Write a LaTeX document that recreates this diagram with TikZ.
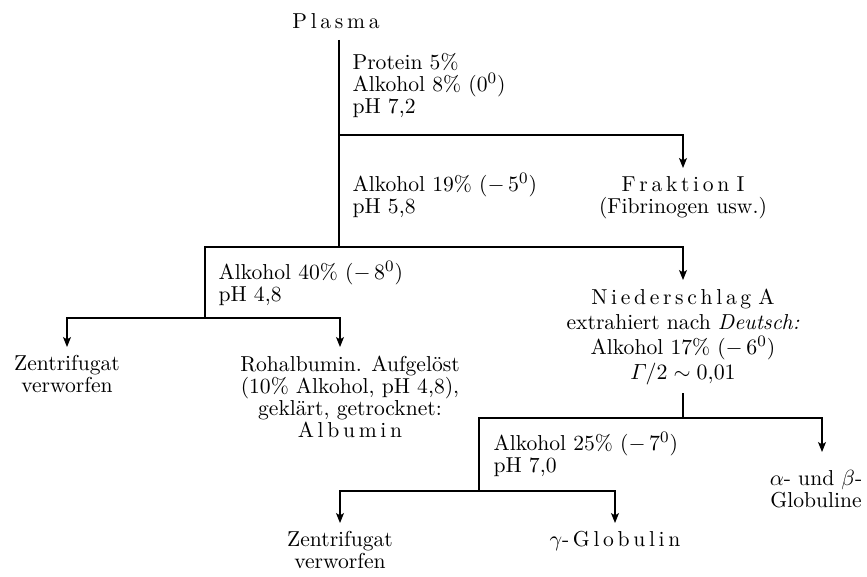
\documentclass[tikz,border=0pt]{standalone}
\usepackage{amsmath}
\usepackage{amssymb}
\usepackage{tikz}
\usetikzlibrary{arrows.meta}
\makeatletter
\newcommand{\spaced}[1]{\@tfor\spc@t:=#1\do{\spc@t\kern.17em}\unkern}
\makeatother
\begin{document}
\begin{tikzpicture}[x=0.5pt,y=-0.5pt,line width=0.55pt,
  txt/.style={inner sep=4pt,align=center,anchor=north,font=\fontsize{10.8}{11}\selectfont},
  cond/.style={inner sep=0pt,align=left,anchor=north west,font=\fontsize{10.8}{11}\selectfont},
  arr/.style={-{Stealth[length=5pt,width=4pt,inset=1.2pt]}}]
\useasboundingbox (0,0) rectangle (867,577);

\node [font=\fontsize{10.8}{11}\selectfont] (plasma) at (336,21) {\spaced{Plasma}};
\coordinate (top) at (339,40);
\coordinate (j1) at (339,135);
\coordinate (j2) at (339,247);
\coordinate (b40) at (205,247);
\coordinate (c40) at (205,318);
\coordinate (d1) at (683,418);
\coordinate (b25) at (479,418);
\coordinate (c25) at (479,491);

\node [cond] (lab1) at (352,53) {Protein 5\%\\Alkohol 8\% (0$^0$)\\pH 7,2};
\node [cond] (lab2) at (352,173) {Alkohol 19\% ($-\,5^0$)\\pH 5,8};
\node [cond] (lab3) at (218,261) {Alkohol 40\% ($-\,8^0$)\\pH 4,8};
\node [cond] (lab4) at (493,432) {Alkohol 25\% ($-\,7^0$)\\pH 7,0};

\node [txt] (frak) at (683,168) {\spaced{Fraktion}\ \spaced{I}\\(Fibrinogen usw.)};
\node [txt] (nied) at (683,280) {\spaced{Niederschlag}\ \spaced{A}\\[1.5pt]
  extrahiert nach \textit{Deutsch:}\\[1.5pt]Alkohol 17\% ($-\,6^0$)\\[1.5pt]$\varGamma/2\sim 0{,}01$};
\node [txt] (zent1) at (67,347) {Zentrifugat\\verworfen};
\node [txt] (roh) at (350,347) {Rohalbumin. Aufgelöst\\(10\% Alkohol, pH 4,8),\\geklärt, getrocknet:\\\spaced{Albumin}};
\node [txt] (alpha) at (816,462) {$\alpha$- und $\beta$-\\Globuline};
\node [txt] (zent2) at (340,523) {Zentrifugat\\verworfen};
\node [txt] (gamma) at (615,523) {$\gamma$-\,\spaced{Globulin}};

\draw (top) -- (j2);
\draw [arr] (j1) -| (frak.north);
\draw [arr] (j2) -| (nied.north);
\draw (j2) -- (b40) -- (c40);
\draw [arr] (c40) -| (zent1.north);
\draw [arr] (c40) -| ([xshift=-5pt]roh.north);
%\draw (nied.south) -- (d1);
\draw (nied.south) -- (d1);
\draw [arr] (d1) -| ([xshift=3pt,yshift=5pt]alpha.north);
\draw (d1) -- (b25) -- (c25);
\draw [arr] (c25) -| (zent2.north);
\draw [arr] (c25) -| (gamma.north);

\end{tikzpicture}
\end{document}
